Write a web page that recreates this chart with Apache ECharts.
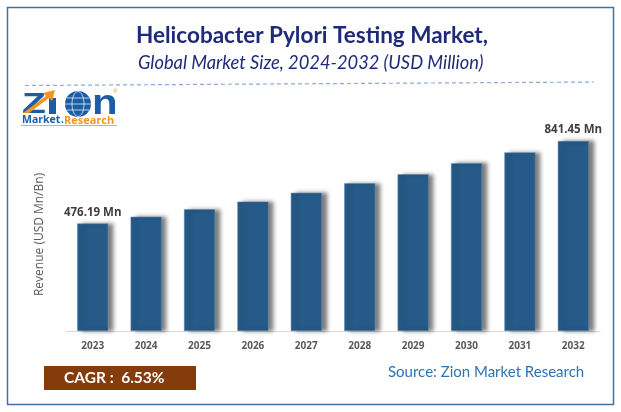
<!DOCTYPE html>
<html>
<head>
<meta charset="utf-8">
<style>
  html, body { margin: 0; padding: 0; background: #fff; }
  #chart { width: 621px; height: 412px; }
</style>
</head>
<body>
<div id="chart"></div>

<script src="https://cdn.jsdelivr.net/npm/echarts@6/dist/echarts.min.js"></script>
<script>
  const years = ['2023', '2024', '2025', '2026', '2027', '2028', '2029', '2030', '2031', '2032'];
  const revenue = [476.19, 506, 539, 573, 612, 654, 694, 743, 791, 841.45];
  const barLabels = ['476.19 Mn', '', '', '', '', '', '', '', '', '841.45 Mn'];

  const chart = echarts.init(document.getElementById('chart'));
  const logoBlue = '#1b5ea6';
  const logoOrange = '#f7941d';

  const option = {
    animation: false,
    backgroundColor: '#fff',
    title: [
      {
        text: 'Helicobacter Pylori Testing Market,',
        left: 131, top: 19,
        textStyle: { fontFamily: 'Lato', fontSize: 22.5, fontWeight: 'bold', color: '#1f2a78' }
      },
      {
        text: 'Global Market Size, 2024-2032 (USD Million)',
        left: 133, top: 49,
        textStyle: { fontFamily: 'Lato', fontSize: 18.3, fontWeight: 'normal', fontStyle: 'italic', color: '#1f2a78' }
      }
    ],
    grid: { left: 66, right: 21, top: 127.8, height: 203.2 },
    xAxis: {
      type: 'category',
      data: years,
      axisLine: { lineStyle: { color: '#d9d9d9', width: 1 } },
      axisTick: { show: false },
      axisLabel: { margin: 10, fontFamily: 'Open Sans', fontSize: 10, fontWeight: 'bold', color: '#595959' }
    },
    yAxis: {
      type: 'value',
      min: 0,
      max: 900,
      name: 'Revenue (USD Mn/Bn)',
      nameLocation: 'middle',
      nameGap: 20,
      nameTextStyle: { fontFamily: 'Open Sans', fontSize: 12, color: '#595959', padding: [0, 10, 0, 0] },
      axisLine: { show: false },
      axisTick: { show: false },
      axisLabel: { show: false },
      splitLine: { show: false }
    },
    series: [
      {
        type: 'bar',
        data: revenue,
        barWidth: 31,
        itemStyle: {
          color: '#265a88',
          borderColor: '#5d8ab4',
          borderWidth: 0.5,
          shadowColor: 'rgba(0,0,0,0.5)',
          shadowBlur: 4,
          shadowOffsetX: 5,
          shadowOffsetY: 0
        },
        label: {
          show: true,
          position: 'top',
          distance: 5,
          formatter: p => barLabels[p.dataIndex],
          fontFamily: 'Open Sans',
          fontSize: 11.5,
          fontWeight: 'bold',
          color: '#404040'
        }
      }
    ],
    graphic: [
      // outer frame
      { type: 'rect', shape: { x: 7.5, y: 7.5, width: 606, height: 397 }, style: { fill: 'none', stroke: '#41719c', lineWidth: 1.5 } },
      // dashed rule under the titles
      { type: 'line', shape: { x1: 25, y1: 85.5, x2: 594, y2: 82 }, style: { stroke: '#8faadc', lineWidth: 1.2, lineDash: [4, 3] } },
      // CAGR box
      { type: 'rect', shape: { x: 44, y: 366, width: 152, height: 24 }, style: { fill: '#843c0c' } },
      { type: 'text', x: 64, y: 378, style: { text: 'CAGR :  6.53%', fontFamily: 'Lato', fontSize: 15.5, fontWeight: 'bold', fill: '#fff', verticalAlign: 'middle' } },
      // source
      { type: 'text', x: 388, y: 372, style: { text: 'Source: Zion Market Research', fontFamily: 'Lato', fontSize: 15, fill: '#2e74b5', verticalAlign: 'middle' } },
      // logo
      { type: 'text', x: 22, y: 105, scaleX: 1.3, style: { text: 'Z', fontFamily: 'Liberation Sans', fontSize: 30, fontWeight: 'bold', fill: logoBlue, verticalAlign: 'middle' } },
      { type: 'rect', shape: { x: 49, y: 98, width: 7, height: 16 }, style: { fill: logoBlue } },
      { type: 'polygon', shape: { points: [[23, 113], [46, 96], [43, 93], [55, 90], [52, 101], [49, 98], [29, 113]] }, style: { fill: logoOrange } },
      { type: 'circle', shape: { cx: 78, cy: 104, r: 13 }, style: { fill: logoBlue } },
      { type: 'ellipse', shape: { cx: 78, cy: 104, rx: 6, ry: 12.5 }, style: { fill: 'none', stroke: '#fff', lineWidth: 0.7 } },
      { type: 'line', shape: { x1: 65, y1: 104, x2: 91, y2: 104 }, style: { stroke: '#fff', lineWidth: 0.7 } },
      { type: 'line', shape: { x1: 67, y1: 98, x2: 89, y2: 98 }, style: { stroke: '#fff', lineWidth: 0.7 } },
      { type: 'line', shape: { x1: 67, y1: 110, x2: 89, y2: 110 }, style: { stroke: '#fff', lineWidth: 0.7 } },
      { type: 'text', x: 92, y: 104, scaleX: 1.2, style: { text: 'n', fontFamily: 'Liberation Sans', fontSize: 35, fontWeight: 'bold', fill: logoBlue, verticalAlign: 'middle' } },
      { type: 'text', x: 113, y: 91, style: { text: '®', fontFamily: 'Liberation Sans', fontSize: 6, fill: logoOrange, verticalAlign: 'middle' } },
      { type: 'text', x: 22, y: 120.5, style: { text: 'Market', fontFamily: 'Open Sans', fontSize: 10.5, fontWeight: 'bold', fill: logoBlue, verticalAlign: 'middle' } },
      { type: 'text', x: 61, y: 120.5, style: { text: '.', fontFamily: 'Open Sans', fontSize: 10.5, fontWeight: 'bold', fill: logoBlue, verticalAlign: 'middle' } },
      { type: 'text', x: 64, y: 120.5, style: { text: 'Research', fontFamily: 'Open Sans', fontSize: 11, fontWeight: 'bold', fill: logoOrange, verticalAlign: 'middle' } },
      { type: 'line', shape: { x1: 21, y1: 125.5, x2: 117, y2: 125.5 }, style: { stroke: '#7fa6d2', lineWidth: 0.8 } }
    ]
  };

  chart.setOption(option);
</script>
</body>
</html>
